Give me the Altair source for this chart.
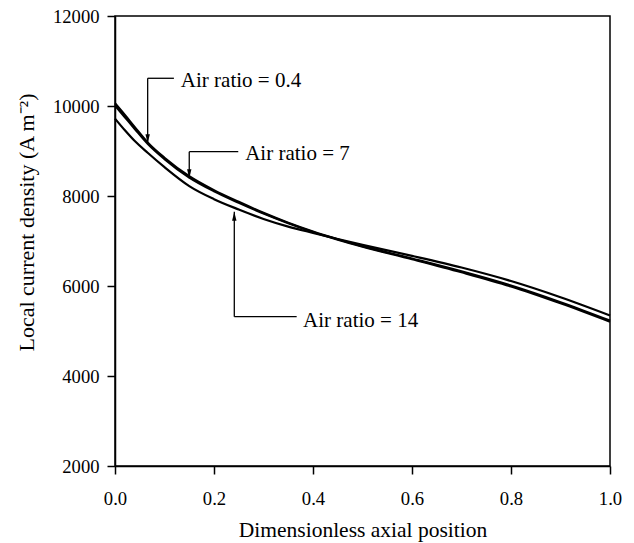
import altair as alt
import pandas as pd

# Dimensionless axial position along the cell
position = [0.0, 0.02, 0.04, 0.066, 0.1, 0.15, 0.2, 0.25, 0.3, 0.35,
            0.4, 0.45, 0.5, 0.6, 0.7, 0.8, 0.9, 1.0]

# Local current density (A m^-2) for each air ratio
ratio_04 = [10060, 9800, 9530, 9190, 8850, 8440, 8130, 7870, 7625, 7405,
            7210, 7040, 6885, 6610, 6325, 6010, 5640, 5230]
ratio_7 = [10010, 9750, 9490, 9160, 8820, 8410, 8105, 7850, 7610, 7395,
           7200, 7030, 6875, 6595, 6305, 5990, 5615, 5205]
ratio_14 = [9720, 9460, 9220, 8960, 8640, 8220, 7930, 7700, 7490, 7320,
            7180, 7045, 6915, 6670, 6410, 6110, 5750, 5345]
series_names = ["0.4", "7", "14"]

# Callout labels: arrow tip on the curve, elbow of the leader, label anchor
label_text = ["Air ratio = 0.4", "Air ratio = 7", "Air ratio = 14"]
tip_x = [0.066, 0.150, 0.241]
tip_y = [9171, 8393, 7651]
elbow_y = [10616, 8984, 5318]
leader_end_x = [0.119, 0.249, 0.367]
text_x = [0.133, 0.263, 0.380]
text_y = [10416, 8800, 5096]

rows = []
for name, vals in zip(series_names, [ratio_04, ratio_7, ratio_14]):
    for xv, jv in zip(position, vals):
        rows.append({"pos": xv, "j": jv, "ratio": name})
curves = pd.DataFrame(rows)

segments = []
for i in range(len(label_text)):
    segments.append({"x1": tip_x[i], "y1": tip_y[i], "x2": tip_x[i], "y2": elbow_y[i]})
    segments.append({"x1": tip_x[i], "y1": elbow_y[i], "x2": leader_end_x[i], "y2": elbow_y[i]})
leaders = pd.DataFrame(segments)

ARROW_DOWN = "M0,0L-2.2,-9L2.2,-9Z"
ARROW_UP = "M0,0L-2.2,9L2.2,9Z"
heads = pd.DataFrame({
    "x": tip_x,
    "y": tip_y,
    "head": [ARROW_DOWN if ty < ey else ARROW_UP for ty, ey in zip(tip_y, elbow_y)],
})
labels = pd.DataFrame({"x": text_x, "y": text_y, "text": label_text})

FONT = "Liberation Serif"
xs = alt.Scale(domain=[0, 1], nice=False, zero=False)
ys = alt.Scale(domain=[2000, 12000], nice=False, zero=False)

x_axis = alt.Axis(
    values=[0, 0.2, 0.4, 0.6, 0.8, 1.0], format=".1f",
    title="Dimensionless axial position",
    grid=False, domainColor="black", domainWidth=1.5,
    tickColor="black", tickWidth=1.5, tickSize=8,
    labelFont=FONT, labelFontSize=18.7, labelColor="black",
    labelPadding=30, labelBaseline="alphabetic", labelFlush=False,
    titleFont=FONT, titleFontSize=21.5, titleFontWeight="normal",
    titleColor="black", titleBaseline="alphabetic", titleY=70,
)
y_axis = alt.Axis(
    values=[2000, 4000, 6000, 8000, 10000, 12000], format="d",
    title="Local current density (A m\u207b\u00b2)",
    grid=False, domainColor="black", domainWidth=1.5,
    tickColor="black", tickWidth=1.5, tickSize=8,
    labelFont=FONT, labelFontSize=18.6, labelColor="black",
    labelPadding=8, labelFlush=False,
    titleFont=FONT, titleFontSize=22, titleFontWeight="normal",
    titleColor="black", titleAngle=270, titleAlign="center",
    titleBaseline="alphabetic", titleX=-82, titleY=206,
)


def xenc(field):
    return alt.X(f"{field}:Q", scale=xs, axis=x_axis)


def yenc(field):
    return alt.Y(f"{field}:Q", scale=ys, axis=y_axis)


lines = alt.Chart(curves).mark_line(
    color="black", strokeWidth=2.2, interpolate="monotone"
).encode(x=xenc("pos"), y=yenc("j"), detail="ratio:N")

leader_rules = alt.Chart(leaders).mark_rule(
    color="black", strokeWidth=1.3
).encode(x=xenc("x1"), y=yenc("y1"), x2="x2:Q", y2="y2:Q")

arrow_heads = alt.Chart(heads).mark_point(
    filled=True, color="black", opacity=1, size=4, strokeWidth=0
).encode(x=xenc("x"), y=yenc("y"), shape=alt.Shape("head:N", scale=None))

callouts = alt.Chart(labels).mark_text(
    align="left", baseline="alphabetic", font=FONT, fontSize=21, color="black"
).encode(x=xenc("x"), y=yenc("y"), text="text:N")

chart = alt.layer(lines, leader_rules, arrow_heads, callouts).properties(
    width=495,
    height=450,
    autosize=alt.AutoSizeParams(type="none"),
    padding={"left": 115, "top": 16, "right": 24, "bottom": 77},
    background="white",
).configure_view(
    stroke="black", strokeWidth=1.5
)

chart.save("out.html", embed_options={"renderer": "svg", "actions": False})
